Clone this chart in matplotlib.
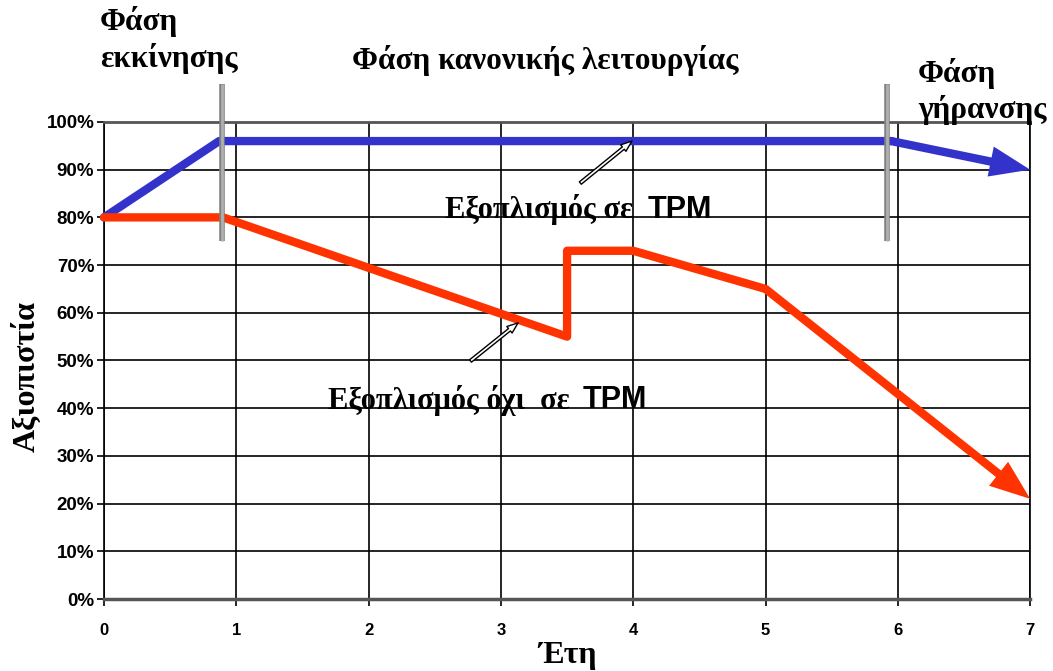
import matplotlib.pyplot as plt

years_tpm = [0, 0.87, 5.95, 7]
rel_tpm = [80, 96, 96, 90]
years_no_tpm = [0, 0.9, 3.5, 3.5, 4, 5, 7]
rel_no_tpm = [80, 80, 55, 73, 73, 65, 21]
phase_bounds = [0.89, 5.92]
x_ticks = [0, 1, 2, 3, 4, 5, 6, 7]
y_ticks = [0, 10, 20, 30, 40, 50, 60, 70, 80, 90, 100]

serif = 'Liberation Serif'
sans = 'Liberation Sans'
blue = '#3333cc'
red = '#ff3300'

fig = plt.figure(figsize=(10.53, 6.71), dpi=100)
ax = fig.add_axes([0.0988, 0.1073, 0.8795, 0.7109])

ax.set_xlim(0, 7)
ax.set_ylim(0, 100)
ax.set_xticks(x_ticks)
ax.set_yticks(y_ticks)
ax.set_yticklabels([f'{v}%' for v in y_ticks])
for lab in ax.get_xticklabels():
    lab.set_fontfamily(sans)
    lab.set_fontweight('bold')
    lab.set_fontsize(12)
for lab in ax.get_yticklabels():
    lab.set_fontfamily(sans)
    lab.set_fontweight('bold')
    lab.set_fontsize(13.5)
ax.tick_params(axis='x', length=5, width=1.2, pad=12, color='black')
ax.tick_params(axis='y', length=5, width=1.2, pad=2, color='black')
ax.grid(True, color='black', lw=1.2)
ax.set_axisbelow(True)
for s in ax.spines.values():
    s.set_color('black')
    s.set_linewidth(1.2)
ax.spines['bottom'].set_color('#555555')
ax.spines['bottom'].set_linewidth(2.5)
ax.spines['top'].set_color('#555555')
ax.spines['top'].set_linewidth(2)

# phase boundaries (grey bar with darker edge)
for xb in phase_bounds:
    ax.plot([xb, xb], [75, 108], color='#808080', lw=4, clip_on=False,
            solid_capstyle='butt', zorder=5)
    ax.plot([xb, xb], [75, 108], color='#b0b0b0', lw=2, clip_on=False,
            solid_capstyle='butt', zorder=5)

# curves: all but the last segment as lines, last segment as an arrow
for xs, ys, c in [(years_tpm, rel_tpm, blue), (years_no_tpm, rel_no_tpm, red)]:
    ax.plot(xs[:-1], ys[:-1], color=c, lw=6, solid_capstyle='round',
            solid_joinstyle='round', zorder=4, clip_on=False)
    ax.annotate('', xy=(xs[-1], ys[-1]), xytext=(xs[-2], ys[-2]),
                arrowprops=dict(arrowstyle='simple,head_length=2.9,head_width=2.2,tail_width=0.6',
                                fc=c, ec='none', lw=0, shrinkA=0, shrinkB=0,
                                mutation_scale=10),
                zorder=4, annotation_clip=False)

# pointer arrows
arrow_kw = dict(arrowstyle='simple,head_length=0.8,head_width=0.6,tail_width=0.22',
                fc='white', ec='black', lw=1, shrinkA=0, shrinkB=0)
ax.annotate('', xy=(3.99, 96), xytext=(3.6, 87.2), arrowprops=arrow_kw, zorder=7)
ax.annotate('', xy=(3.13, 57.9), xytext=(2.77, 49.9), arrowprops=arrow_kw, zorder=7)

# labels for curves
ax.text(4.0, 81.6, 'Εξοπλισμός σε', family=serif, weight='bold', fontsize=22,
        ha='right', va='center', zorder=8)
ax.text(4.11, 81.6, 'TPM', family=sans, weight='bold', fontsize=22,
        ha='left', va='center', zorder=8)
ax.text(3.52, 41.7, 'Εξοπλισμός όχι  σε', family=serif, weight='bold', fontsize=22,
        ha='right', va='center', zorder=8)
ax.text(3.62, 41.7, 'TPM', family=sans, weight='bold', fontsize=22,
        ha='left', va='center', zorder=8)

# phase titles
fig.text(100 / 1053, 1 - 6 / 671, 'Φάση\nεκκίνησης', family=serif, weight='bold',
         fontsize=22.5, ha='left', va='top', linespacing=1.25)
fig.text(352 / 1053, 1 - 60 / 671, 'Φάση κανονικής λειτουργίας', family=serif,
         weight='bold', fontsize=22.5, ha='left', va='center')
fig.text(918 / 1053, 1 - 58 / 671, 'Φάση\nγήρανσης', family=serif, weight='bold',
         fontsize=22.5, ha='left', va='top', linespacing=1.25)

# axis titles
fig.text(27 / 1053, 1 - 376 / 671, 'Αξιοπιστία', family=serif, weight='bold',
         fontsize=23, rotation=90, ha='center', va='center')
fig.text(568 / 1053, 1 - 655 / 671, 'Έτη', family=serif, weight='bold',
         fontsize=23, ha='center', va='center')

fig.savefig('out.png', dpi=100)
